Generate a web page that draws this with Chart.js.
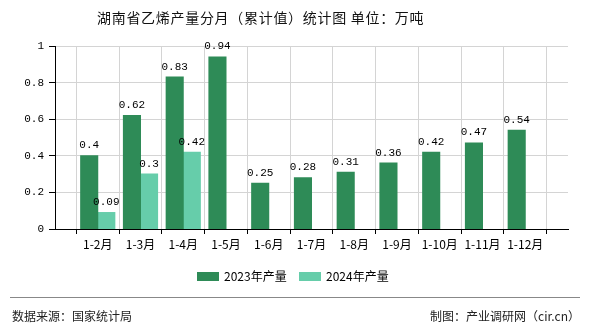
<!DOCTYPE html>
<html>
<head>
<meta charset="utf-8">
<script src="https://cdn.jsdelivr.net/npm/chart.js@4/dist/chart.umd.min.js"></script>
<style>
  html, body { margin: 0; padding: 0; background: #fff; }
  #wrap { position: relative; width: 590px; height: 330px; overflow: hidden; font-family: "Noto Sans CJK SC", sans-serif; }
  #chart { position: absolute; left: 0; top: 0; }
  .title { position: absolute; left: 97px; top: 7px; font-size: 14px; letter-spacing: 0.7px; color: #111; line-height: 20px; white-space: nowrap; }
  .legend { position: absolute; top: 267px; left: 0; width: 590px; font-size: 12px; color: #000; }
  .legend span.item { position: absolute; top: 0; line-height: 18px; white-space: nowrap; }
  .legend i { display: inline-block; width: 22px; height: 9px; vertical-align: middle; margin-right: 5px; position: relative; top: -1px; }
  .rule { position: absolute; left: 10px; right: 10px; top: 297px; height: 1px; background: #888; }
  .foot { position: absolute; top: 307px; font-size: 12px; color: #222; line-height: 18px; }
</style>
</head>
<body>
<div id="wrap">
  <canvas id="chart" width="590" height="330"></canvas>
  <div class="title">湖南省乙烯产量分月（累计值）统计图 单位：万吨</div>
  <div class="legend" id="legend"></div>
  <div class="rule"></div>
  <div class="foot" style="left:12px">数据来源：国家统计局</div>
  <div class="foot" style="right:10px">制图：产业调研网（cir.cn）</div>
</div>
<script>
// Months (cumulative), padded with empty slots at both ends of the axis
const categories = ['', '1-2月', '1-3月', '1-4月', '1-5月', '1-6月', '1-7月', '1-8月', '1-9月', '1-10月', '1-11月', '1-12月', ''];
const seriesNames = ['2023年产量', '2024年产量'];
const values2023 = [null, 0.4, 0.62, 0.83, 0.94, 0.25, 0.28, 0.31, 0.36, 0.42, 0.47, 0.54, null];
const values2024 = [null, 0.09, 0.3, 0.42, null, null, null, null, null, null, null, null, null];
const yTicks = [0, 0.2, 0.4, 0.6, 0.8, 1];
const colors = ['#2e8b57', '#66cdaa'];

const numFont = '"Liberation Mono", "DejaVu Sans Mono", monospace';

// Value labels above each bar
const valueLabels = {
  id: 'valueLabels',
  afterDatasetsDraw(chart) {
    const ctx = chart.ctx;
    ctx.save();
    ctx.font = '11px ' + numFont;
    ctx.fillStyle = '#000';
    ctx.textAlign = 'center';
    ctx.textBaseline = 'bottom';
    chart.data.datasets.forEach((ds, di) => {
      const meta = chart.getDatasetMeta(di);
      meta.data.forEach((bar, i) => {
        const v = ds.data[i];
        if (v === null || v === undefined) return;
        ctx.fillText(String(v), bar.x, bar.y - 5);
      });
    });
    ctx.restore();
  }
};

new Chart(document.getElementById('chart'), {
  type: 'bar',
  data: {
    labels: categories,
    datasets: [
      { label: seriesNames[0], data: values2023, backgroundColor: colors[0] },
      { label: seriesNames[1], data: values2024, backgroundColor: colors[1] }
    ]
  },
  options: {
    responsive: false,
    animation: false,
    events: [],
    layout: { padding: { left: 0, right: 22, top: 46, bottom: 71 } },
    plugins: { legend: { display: false }, title: { display: false }, tooltip: { enabled: false } },
    datasets: { bar: { categoryPercentage: 0.8, barPercentage: 1, borderWidth: 0, inflateAmount: 0.5 } },
    scales: {
      x: {
        offset: false,
        grid: { color: '#d4d4d4', tickColor: '#000', tickLength: 5, drawOnChartArea: true },
        border: { color: '#000', width: 1 },
        ticks: { autoSkip: false, maxRotation: 0, color: '#000', padding: 3, font: { family: '"Noto Sans CJK SC", sans-serif', size: 12 } },
        afterFit(scale) { scale.height = 30; }
      },
      y: {
        min: 0, max: 1,
        afterBuildTicks(scale) { scale.ticks = yTicks.map(v => ({ value: v })); },
        grid: { color: '#d4d4d4', tickColor: '#000', tickLength: 6 },
        border: { color: '#000', width: 1 },
        ticks: { color: '#000', padding: 5, font: { family: numFont, size: 11 }, callback: v => String(v) },
        afterFit(scale) { scale.width = 55; }
      }
    }
  },
  plugins: [valueLabels]
});

// Legend row
const legend = document.getElementById('legend');
const legendX = [197, 299];
seriesNames.forEach((name, i) => {
  const s = document.createElement('span');
  s.className = 'item';
  s.style.left = legendX[i] + 'px';
  s.innerHTML = '<i style="background:' + colors[i] + '"></i>' + name;
  legend.appendChild(s);
});
</script>
</body>
</html>
